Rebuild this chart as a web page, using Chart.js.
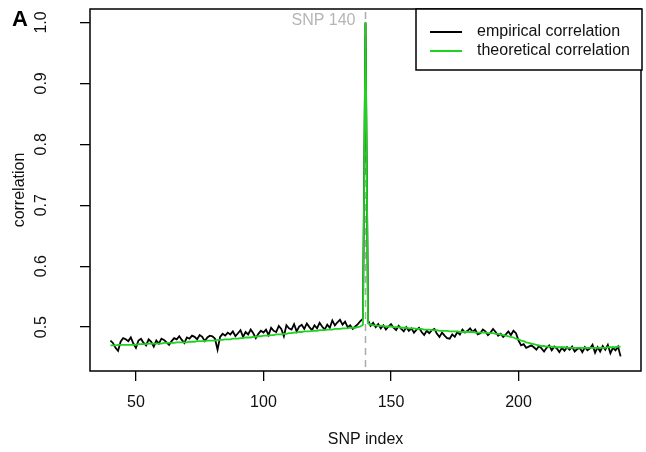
<!DOCTYPE html>
<html>
<head>
<meta charset="utf-8">
<script src="https://cdn.jsdelivr.net/npm/chart.js@4"></script>
<style>
  body { margin: 0; background: #fff; }
</style>
</head>
<body>
<canvas id="corrChart" width="646" height="452"></canvas>
<script>
// SNP index of the first value, one value per SNP after that
const firstSnp = 40;
const markedSnp = 140;

const empirical = [
  0.478, 0.474, 0.466, 0.461, 0.476, 0.482, 0.480, 0.477, 0.483, 0.473,
  0.466, 0.478, 0.481, 0.474, 0.470, 0.480, 0.476, 0.468, 0.478, 0.473,
  0.481, 0.479, 0.475, 0.471, 0.477, 0.482, 0.480, 0.485, 0.479, 0.474,
  0.483, 0.481, 0.486, 0.484, 0.480, 0.487, 0.484, 0.477, 0.483, 0.486,
  0.485, 0.481, 0.463, 0.484, 0.489, 0.486, 0.491, 0.488, 0.493, 0.485,
  0.490, 0.495, 0.484, 0.492, 0.488, 0.496, 0.490, 0.482, 0.489, 0.494,
  0.491, 0.496, 0.487, 0.499, 0.494, 0.492, 0.502, 0.497, 0.485, 0.503,
  0.498, 0.496, 0.505, 0.493, 0.501, 0.504, 0.497, 0.506, 0.500, 0.495,
  0.503, 0.498, 0.507, 0.501, 0.496, 0.504, 0.499, 0.511, 0.503, 0.508,
  0.512, 0.504, 0.509, 0.500, 0.503, 0.497, 0.501, 0.505, 0.510, 0.514,
  1.000,
  0.511, 0.502, 0.507, 0.500, 0.505, 0.498, 0.503, 0.496, 0.501,
  0.505, 0.499, 0.495, 0.502, 0.497, 0.493, 0.500, 0.494, 0.498, 0.491,
  0.496, 0.499, 0.492, 0.487, 0.494, 0.490, 0.495, 0.497, 0.489, 0.484,
  0.491, 0.486, 0.482, 0.481, 0.488, 0.484, 0.492, 0.488, 0.496, 0.491,
  0.494, 0.498, 0.492, 0.496, 0.488, 0.490, 0.496, 0.493, 0.487, 0.491,
  0.497, 0.492, 0.486, 0.489, 0.484, 0.488, 0.493, 0.487, 0.494, 0.490,
  0.478, 0.470, 0.472, 0.466, 0.468, 0.470, 0.467, 0.463, 0.469, 0.465,
  0.460, 0.466, 0.470, 0.462, 0.468, 0.465, 0.459, 0.466, 0.461, 0.467,
  0.463, 0.468, 0.460, 0.464, 0.466, 0.459, 0.467, 0.462, 0.465, 0.471,
  0.458, 0.467, 0.460, 0.469, 0.463, 0.471, 0.457, 0.466, 0.462, 0.468,
  0.452
];

const theoretical = [
  0.470, 0.470, 0.470, 0.471, 0.471, 0.471, 0.471, 0.471, 0.471, 0.471,
  0.471, 0.472, 0.472, 0.472, 0.472, 0.473, 0.473, 0.473, 0.473, 0.473,
  0.473, 0.474, 0.474, 0.474, 0.474, 0.474, 0.475, 0.475, 0.475, 0.475,
  0.475, 0.476, 0.476, 0.476, 0.477, 0.477, 0.477, 0.477, 0.478, 0.478,
  0.478, 0.478, 0.479, 0.479, 0.479, 0.480, 0.480, 0.480, 0.481, 0.481,
  0.481, 0.482, 0.482, 0.483, 0.483, 0.483, 0.484, 0.484, 0.485, 0.485,
  0.486, 0.486, 0.486, 0.487, 0.487, 0.488, 0.488, 0.488, 0.489, 0.489,
  0.490, 0.490, 0.491, 0.491, 0.492, 0.492, 0.493, 0.493, 0.493, 0.494,
  0.494, 0.494, 0.495, 0.495, 0.495, 0.496, 0.496, 0.496, 0.497, 0.497,
  0.497, 0.498, 0.498, 0.498, 0.499, 0.499, 0.499, 0.500, 0.501, 0.504,
  1.000,
  0.506, 0.504, 0.503, 0.503, 0.502, 0.502, 0.502, 0.501, 0.501,
  0.501, 0.500, 0.500, 0.500, 0.499, 0.499, 0.499, 0.498, 0.498, 0.498,
  0.497, 0.497, 0.497, 0.496, 0.496, 0.496, 0.495, 0.495, 0.495, 0.494,
  0.494, 0.494, 0.494, 0.493, 0.493, 0.493, 0.493, 0.492, 0.492, 0.492,
  0.492, 0.492, 0.492, 0.491, 0.491, 0.491, 0.491, 0.491, 0.490, 0.490,
  0.490, 0.489, 0.489, 0.488, 0.487, 0.486, 0.485, 0.484, 0.483, 0.481,
  0.480, 0.478, 0.477, 0.475, 0.474, 0.473, 0.472, 0.471, 0.470, 0.469,
  0.469, 0.468, 0.468, 0.468, 0.467, 0.467, 0.467, 0.467, 0.467, 0.466,
  0.466, 0.466, 0.466, 0.466, 0.466, 0.466, 0.466, 0.466, 0.466, 0.466,
  0.466, 0.466, 0.466, 0.466, 0.466, 0.467, 0.467, 0.467, 0.467, 0.468,
  0.468
];

const xTicks = [50, 100, 150, 200];
const yTicks = [0.5, 0.6, 0.7, 0.8, 0.9, 1.0];
const yTickLabels = ['0.5', '0.6', '0.7', '0.8', '0.9', '1.0'];
const seriesNames = ['empirical correlation', 'theoretical correlation'];
const seriesColors = ['#000000', '#1fd21f'];

const FONT = '"Liberation Sans", Arial, sans-serif';

function toPoints(values) {
  return values.map((v, i) => ({ x: firstSnp + i, y: v }));
}

// box, rotated y labels, axis titles, marker line and legend, R style
const rDecor = {
  id: 'rDecor',
  beforeDatasetsDraw(chart) {
    const { ctx, chartArea, scales } = chart;
    const px = scales.x.getPixelForValue(markedSnp);
    ctx.save();
    ctx.strokeStyle = '#aaaaaa';
    ctx.lineWidth = 1.5;
    ctx.setLineDash([7, 5]);
    ctx.beginPath();
    ctx.moveTo(px, chartArea.top + 3);
    ctx.lineTo(px, chartArea.bottom);
    ctx.stroke();
    ctx.restore();
  },
  afterDraw(chart) {
    const { ctx, chartArea, scales } = chart;
    ctx.save();

    // plot box
    ctx.strokeStyle = '#000';
    ctx.lineWidth = 1.5;
    ctx.strokeRect(chartArea.left, chartArea.top,
      chartArea.right - chartArea.left, chartArea.bottom - chartArea.top);

    // y tick labels, vertical
    ctx.fillStyle = '#111';
    ctx.font = '16px ' + FONT;
    ctx.textAlign = 'center';
    ctx.textBaseline = 'middle';
    yTicks.forEach((v, i) => {
      const py = scales.y.getPixelForValue(v);
      ctx.save();
      ctx.translate(42, py);
      ctx.rotate(-Math.PI / 2);
      ctx.fillText(yTickLabels[i], 0, 0);
      ctx.restore();
    });

    // axis titles
    ctx.save();
    ctx.translate(20, (chartArea.top + chartArea.bottom) / 2);
    ctx.rotate(-Math.PI / 2);
    ctx.fillText('correlation', 0, 0);
    ctx.restore();
    ctx.fillText('SNP index', (chartArea.left + chartArea.right) / 2, 440);

    // panel letter
    ctx.font = 'bold 22px ' + FONT;
    ctx.textAlign = 'left';
    ctx.fillStyle = '#000';
    ctx.fillText('A', 12, 20);

    // marker label
    ctx.font = '16px ' + FONT;
    ctx.fillStyle = '#b5b5b5';
    ctx.textAlign = 'right';
    ctx.fillText('SNP ' + markedSnp, scales.x.getPixelForValue(markedSnp) - 10, 21);

    // legend
    const lx = 416, ly = chartArea.top, lw = 226, lh = 61;
    ctx.fillStyle = '#fff';
    ctx.fillRect(lx, ly, lw, lh);
    ctx.strokeStyle = '#000';
    ctx.lineWidth = 1.5;
    ctx.strokeRect(lx, ly, lw, lh);
    ctx.textAlign = 'left';
    ctx.fillStyle = '#111';
    seriesNames.forEach((name, i) => {
      const y = ly + 23 + i * 19;
      ctx.strokeStyle = seriesColors[i];
      ctx.lineWidth = 2;
      ctx.beginPath();
      ctx.moveTo(430, y);
      ctx.lineTo(462, y);
      ctx.stroke();
      ctx.fillText(name, 477, y);
    });

    ctx.restore();
  }
};

const ctx = document.getElementById('corrChart').getContext('2d');

new Chart(ctx, {
  type: 'line',
  data: {
    datasets: [
      {
        label: seriesNames[0],
        data: toPoints(empirical),
        borderColor: seriesColors[0],
        borderWidth: 1.8,
        pointRadius: 0,
        tension: 0,
        order: 2
      },
      {
        label: seriesNames[1],
        data: toPoints(theoretical),
        borderColor: seriesColors[1],
        borderWidth: 1.8,
        pointRadius: 0,
        tension: 0,
        order: 1
      }
    ]
  },
  options: {
    responsive: false,
    animation: false,
    layout: {
      padding: { top: 9, right: 5, left: 0, bottom: 0 }
    },
    scales: {
      x: {
        type: 'linear',
        min: 32,
        max: 248,
        afterBuildTicks: (scale) => { scale.ticks = xTicks.map(v => ({ value: v })); },
        afterFit: (scale) => { scale.height = 81; },
        ticks: {
          color: '#111',
          font: { family: FONT, size: 16 },
          padding: 12,
          maxRotation: 0
        },
        grid: {
          drawOnChartArea: false,
          tickLength: 10,
          color: '#000',
          lineWidth: 1.3
        },
        border: { display: false }
      },
      y: {
        min: 0.428,
        max: 1.022,
        afterBuildTicks: (scale) => { scale.ticks = yTicks.map(v => ({ value: v })); },
        afterFit: (scale) => { scale.width = 90; },
        ticks: { display: false },
        grid: {
          drawOnChartArea: false,
          tickLength: 10,
          color: '#000',
          lineWidth: 1.3
        },
        border: { display: false }
      }
    },
    plugins: {
      legend: { display: false },
      tooltip: { enabled: false }
    }
  },
  plugins: [rDecor]
});
</script>
</body>
</html>
